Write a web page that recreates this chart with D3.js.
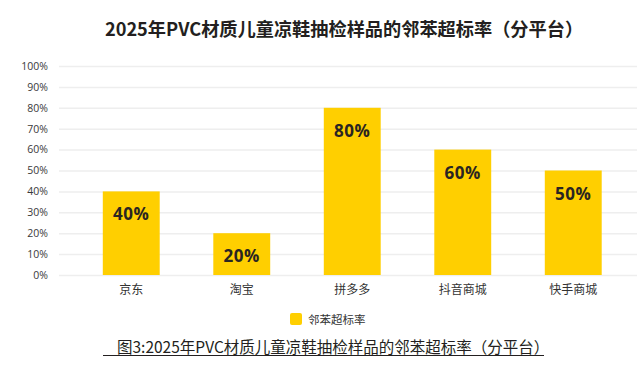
<!DOCTYPE html>
<html>
<head>
<meta charset="utf-8">
<script src="https://cdn.jsdelivr.net/npm/d3@7"></script>
<style>
  body { margin: 0; background: #fff; }
  svg { display: block; font-family: "Noto Sans CJK SC", "Noto Sans", sans-serif; }
</style>
</head>
<body>
<div id="chart"></div>
<script>
var titleText = "2025年PVC材质儿童凉鞋抽检样品的邻苯超标率（分平台）";
var captionText = "图3:2025年PVC材质儿童凉鞋抽检样品的邻苯超标率（分平台）";
var seriesName = "邻苯超标率";
var platforms = ["京东", "淘宝", "拼多多", "抖音商城", "快手商城"];
var rates = [40, 20, 80, 60, 50];
var yTicks = [0, 10, 20, 30, 40, 50, 60, 70, 80, 90, 100];

var width = 637, height = 377;
var barColor = "#FFCF00";

var svg = d3.select("#chart")
    .append("svg")
    .attr("width", width)
    .attr("height", height);

var xScale = d3.scaleBand()
    .domain(platforms)
    .range([76, 628.5])
    .paddingInner(0.485)
    .paddingOuter(0.2425);

var yScale = d3.scaleLinear()
    .domain([0, 100])
    .range([275, 66]);

// title
svg.append("text")
    .attr("x", 344)
    .attr("y", 36)
    .style("text-anchor", "middle")
    .style("font-size", "18.2px")
    .style("font-weight", "bold")
    .attr("fill", "#231f20")
    .text(titleText);

// grid lines
svg.append("g")
    .attr("class", "grid")
    .attr("transform", "translate(59,0)")
    .call(d3.axisLeft(yScale)
        .tickValues(yTicks)
        .tickSize(-(width - 59))
        .tickFormat(""))
    .call(function (g) {
        g.select(".domain").remove();
        g.selectAll("line").attr("stroke", "#eeeeee").attr("stroke-width", 1.5);
    });

// y axis labels
svg.append("g")
    .attr("transform", "translate(48,0)")
    .call(d3.axisLeft(yScale)
        .tickValues(yTicks)
        .tickSize(0)
        .tickPadding(0)
        .tickFormat(function (d) { return d + "%"; }))
    .call(function (g) {
        g.select(".domain").remove();
        g.selectAll("text")
            .style("font-size", "10.5px")
            .style("font-family", "'Open Sans', 'Noto Sans', sans-serif")
            .attr("fill", "#3a3a3a");
    });

// bars
svg.selectAll("rect.bar")
    .data(rates)
    .enter()
    .append("rect")
    .attr("class", "bar")
    .attr("x", function (d, i) { return xScale(platforms[i]); })
    .attr("y", function (d) { return yScale(d); })
    .attr("width", xScale.bandwidth())
    .attr("height", function (d) { return yScale(0) - yScale(d); })
    .attr("fill", barColor);

// value labels
svg.selectAll("text.value")
    .data(rates)
    .enter()
    .append("text")
    .attr("class", "value")
    .attr("x", function (d, i) { return xScale(platforms[i]) + xScale.bandwidth() / 2; })
    .attr("y", function (d) { return yScale(d) + 29; })
    .style("text-anchor", "middle")
    .style("font-size", "17px")
    .style("font-weight", "bold")
    .style("font-family", "'Open Sans', 'Noto Sans', sans-serif")
    .style("letter-spacing", "0.5px")
    .attr("fill", "#2a2522")
    .text(function (d) { return d + "%"; });

// x axis labels
svg.append("g")
    .attr("transform", "translate(0,275)")
    .call(d3.axisBottom(xScale).tickSize(0).tickPadding(10))
    .call(function (g) {
        g.select(".domain").remove();
        g.selectAll("text")
            .style("font-size", "12px")
            .style("font-family", "'Noto Sans CJK SC', sans-serif")
            .attr("fill", "#333");
    });

// legend
var legend = svg.append("g").attr("transform", "translate(290,313)");
legend.append("rect")
    .attr("width", 12)
    .attr("height", 12)
    .attr("rx", 2)
    .attr("fill", barColor);
legend.append("text")
    .attr("x", 18)
    .attr("y", 10.5)
    .style("font-size", "11.5px")
    .attr("fill", "#333")
    .text(seriesName);

// caption with underline
svg.append("text")
    .attr("x", 117)
    .attr("y", 353)
    .style("font-size", "15.5px")
    .attr("fill", "#231f20")
    .text(captionText);

svg.append("line")
    .attr("x1", 103)
    .attr("x2", 544)
    .attr("y1", 355.5)
    .attr("y2", 355.5)
    .attr("stroke", "#231f20")
    .attr("stroke-width", 1.2);
</script>
</body>
</html>
